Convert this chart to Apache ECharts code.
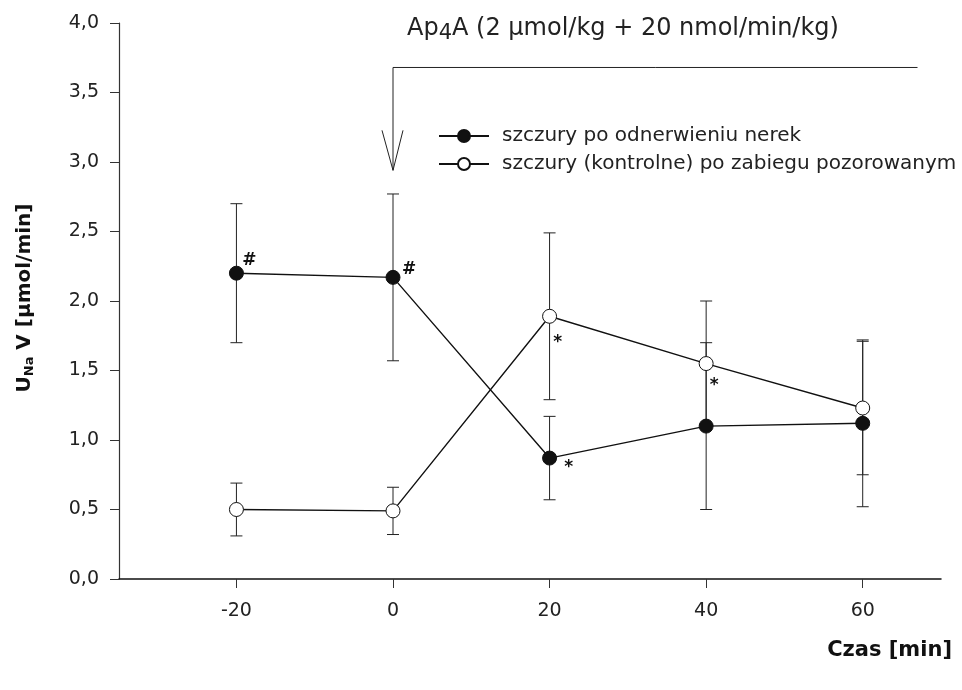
<!DOCTYPE html>
<html>
<head>
<meta charset="utf-8">
<script src="https://cdn.jsdelivr.net/npm/echarts@6/dist/echarts.min.js"></script>
<style>
  html, body { margin: 0; padding: 0; background: #fff; }
  #chart { width: 962px; height: 690px; }
</style>
</head>
<body>
<div id="chart"></div>
<script>
// Time points (min) relative to the start of Ap4A infusion
const times = [-20, 0, 20, 40, 60];

// Urinary sodium excretion, mean and SEM (µmol/min)
const denervMean = [2.20, 2.17, 0.87, 1.10, 1.12];
const denervErr  = [0.50, 0.60, 0.30, 0.60, 0.60];
const shamMean   = [0.50, 0.49, 1.89, 1.55, 1.23];
const shamErr    = [0.19, 0.17, 0.60, 0.45, 0.48];

// Significance marks per point
const denervMarks = ['#', '#', '*', '', ''];
const shamMarks   = ['', '', '*', '*', ''];

// Axis tick values
const xTicks = [-20, 0, 20, 40, 60];

const seriesNames = ['szczury po odnerwieniu nerek', 'szczury (kontrolne) po zabiegu pozorowanym'];

// Infusion bracket: vertical arrow at t=0, horizontal bar to the end
const infusionStart = 0;
const infusionEnd = 67;
const bracketLevel = 3.68;
const arrowTip = 2.94;

// Pixel offsets of the significance marks (relative to each point)
const denervMarkOffsets = [[13, -13], [16, -8], [19, 10], [0, 0], [0, 0]];
const shamMarkOffsets   = [[0, 0], [0, 0], [8, 26], [8, 22], [0, 0]];

const FONT = '"DejaVu Sans", Verdana, sans-serif';

const chart = echarts.init(document.getElementById('chart'), null, { renderer: 'canvas' });

function errorSeries(means, errs, z) {
  return {
    type: 'custom',
    silent: true,
    z: z,
    data: times.map((t, i) => [t, means[i], errs[i]]),
    renderItem: function (params, api) {
      const x = api.value(0), m = api.value(1), e = api.value(2);
      const top = api.coord([x, m + e]);
      const bot = api.coord([x, m - e]);
      const hw = 6;
      const style = { stroke: '#222', lineWidth: 1, fill: null };
      return {
        type: 'group',
        children: [
          { type: 'line', shape: { x1: top[0], y1: top[1], x2: bot[0], y2: bot[1] }, style },
          { type: 'line', shape: { x1: top[0] - hw, y1: top[1], x2: top[0] + hw, y2: top[1] }, style },
          { type: 'line', shape: { x1: bot[0] - hw, y1: bot[1], x2: bot[0] + hw, y2: bot[1] }, style }
        ]
      };
    }
  };
}

function markSeries(means, marks, offsets) {
  return {
    type: 'custom',
    silent: true,
    z: 6,
    data: times.map((t, i) => [t, means[i], i]),
    renderItem: function (params, api) {
      const i = api.value(2);
      const txt = marks[i];
      if (!txt) return null;
      const p = api.coord([api.value(0), api.value(1)]);
      const off = offsets[i];
      return {
        type: 'text',
        x: p[0] + off[0],
        y: p[1] + off[1],
        style: {
          text: txt,
          fill: '#111',
          font: 'bold 17px ' + FONT,
          align: 'center',
          verticalAlign: 'middle'
        }
      };
    }
  };
}

const option = {
  animation: false,
  backgroundColor: '#fff',
  grid: { left: 119, top: 23, right: 21, bottom: 111, containLabel: false },
  xAxis: {
    type: 'value',
    min: -35,
    max: 70,
    interval: 5,
    axisLine: { show: true, onZero: false, lineStyle: { color: '#111', width: 1.5 } },
    axisTick: {
      show: true, length: 9, lineStyle: { color: '#333', width: 1 },
      customValues: xTicks
    },
    axisLabel: {
      show: true, color: '#222', fontSize: 19, fontFamily: FONT, margin: 23,
      customValues: xTicks,
      formatter: v => String(v)
    },
    splitLine: { show: false }
  },
  yAxis: {
    type: 'value',
    min: 0,
    max: 4,
    interval: 0.5,
    axisLine: { show: true, onZero: false, lineStyle: { color: '#333', width: 1.2 } },
    axisTick: { show: true, length: 9, lineStyle: { color: '#333', width: 1 } },
    axisLabel: {
      color: '#222', fontSize: 19, fontFamily: FONT, margin: 20,
      formatter: v => v.toFixed(1).replace('.', ',')
    },
    splitLine: { show: false }
  },
  legend: {
    left: 433,
    top: 121,
    orient: 'vertical',
    itemWidth: 50,
    itemHeight: 15,
    itemGap: 8,
    textStyle: { fontSize: 20, fontFamily: FONT, color: '#222', padding: [0, 0, 0, 8] },
    data: seriesNames
  },
  series: [
    errorSeries(shamMean, shamErr, 2),
    errorSeries(denervMean, denervErr, 2),
    {
      name: seriesNames[0],
      type: 'line',
      z: 4,
      data: times.map((t, i) => [t, denervMean[i]]),
      symbol: 'circle',
      symbolSize: 14,
      lineStyle: { color: '#111', width: 1.4 },
      itemStyle: { color: '#111', borderColor: '#111', borderWidth: 1 }
    },
    {
      name: seriesNames[1],
      type: 'line',
      z: 5,
      data: times.map((t, i) => [t, shamMean[i]]),
      symbol: 'circle',
      symbolSize: 14,
      lineStyle: { color: '#111', width: 1.4 },
      itemStyle: { color: '#fff', borderColor: '#111', borderWidth: 1 }
    },
    markSeries(denervMean, denervMarks, denervMarkOffsets),
    markSeries(shamMean, shamMarks, shamMarkOffsets),
    {
      // infusion bracket and arrow
      type: 'custom',
      silent: true,
      z: 3,
      data: [[infusionStart, bracketLevel, infusionEnd, arrowTip]],
      renderItem: function (params, api) {
        const start = api.coord([api.value(0), api.value(1)]);
        const end = api.coord([api.value(2), api.value(1)]);
        const tip = api.coord([api.value(0), api.value(3)]);
        const style = { stroke: '#222', lineWidth: 1, fill: null };
        return {
          type: 'group',
          children: [
            { type: 'line', shape: { x1: start[0], y1: start[1], x2: end[0], y2: end[1] }, style },
            { type: 'line', shape: { x1: start[0], y1: start[1], x2: tip[0], y2: tip[1] }, style },
            { type: 'polyline', shape: { points: [[tip[0] - 11, tip[1] - 40], [tip[0], tip[1]], [tip[0] + 10, tip[1] - 40]] }, style }
          ]
        };
      }
    }
  ],
  graphic: [
    {
      type: 'text',
      x: 407,
      y: 13,
      style: {
        text: '{m|Ap}{s|4}{m|A (2 μmol/kg + 20 nmol/min/kg)}',
        rich: {
          m: { fontSize: 24, fontFamily: FONT, fill: '#222' },
          s: { fontSize: 21, fontFamily: FONT, fill: '#222', padding: [10, 0, 0, 0] }
        }
      }
    },
    {
      type: 'text',
      x: 25,
      y: 298,
      rotation: Math.PI / 2,
      style: {
        text: '{b|U}{s|Na}{b| V [μmol/min]}',
        align: 'center',
        verticalAlign: 'middle',
        rich: {
          b: { fontSize: 20, fontWeight: 'bold', fontFamily: FONT, fill: '#111' },
          s: { fontSize: 13, fontWeight: 'bold', fontFamily: FONT, fill: '#111', padding: [9, 0, 0, 0] }
        }
      }
    },
    {
      type: 'text',
      right: 10,
      top: 640,
      style: {
        text: 'Czas [min]',
        font: 'bold 21px ' + FONT,
        fill: '#111'
      }
    }
  ]
};

chart.setOption(option);
</script>
</body>
</html>
